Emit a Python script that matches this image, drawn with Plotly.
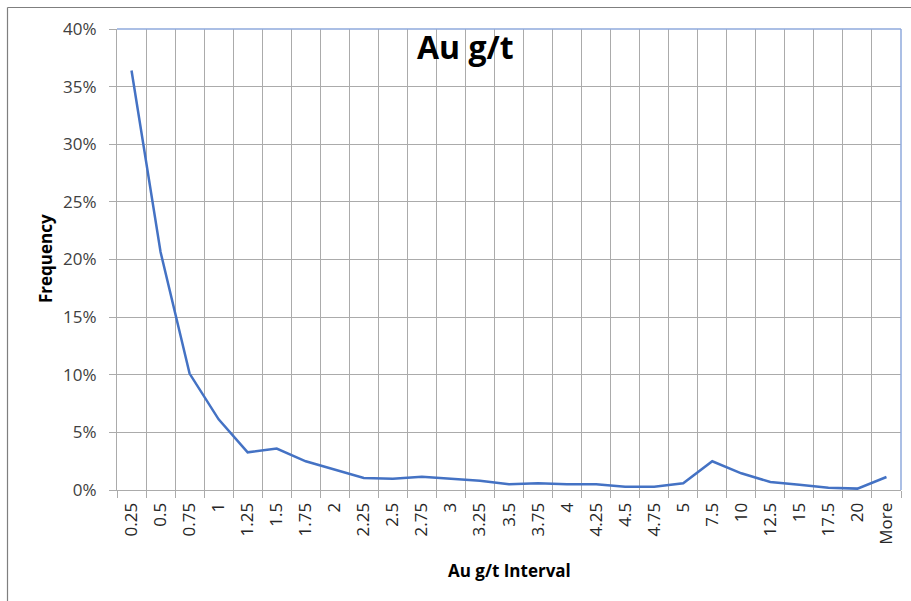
import plotly.graph_objects as go

categories = ["0.25", "0.5", "0.75", "1", "1.25", "1.5", "1.75", "2", "2.25", "2.5",
              "2.75", "3", "3.25", "3.5", "3.75", "4", "4.25", "4.5", "4.75", "5",
              "7.5", "10", "12.5", "15", "17.5", "20", "More"]
frequency = [0.364, 0.2065, 0.101, 0.0613, 0.0327, 0.0359, 0.0249, 0.0174, 0.0104, 0.0098,
             0.0116, 0.0097, 0.0081, 0.0049, 0.0058, 0.0049, 0.0049, 0.0029, 0.0029, 0.0058,
             0.0249, 0.0145, 0.0069, 0.0046, 0.0020, 0.0012, 0.0113]
y_ticks = [0, 0.05, 0.10, 0.15, 0.20, 0.25, 0.30, 0.35, 0.40]

W, H = 911, 601
L, R, T, B = 117, 10, 29, 111
pw, ph = W - L - R, H - T - B

def px(x):
    return (x - L) / pw

def py(y):
    return (H - B - y) / ph

font_family = "Open Sans, Noto Sans, sans-serif"
grid_col = "#ababab"

fig = go.Figure()
fig.add_trace(go.Scatter(
    x=categories, y=frequency, mode="lines",
    line=dict(color="#4472C4", width=2.5),
    showlegend=False, hoverinfo="skip",
))

fig.update_layout(
    width=W, height=H,
    margin=dict(l=L, r=R, t=T, b=B),
    paper_bgcolor="white", plot_bgcolor="white",
    font=dict(family=font_family, color="#404040"),
    xaxis=dict(
        type="category", tickson="boundaries",
        tickangle=-90, tickfont=dict(size=17, color="#262626"),
        showgrid=True, gridcolor=grid_col, gridwidth=1,
        ticks="outside", ticklen=7, tickcolor=grid_col,
        showline=True, linecolor=grid_col, linewidth=1,
        range=[-0.5, len(categories) - 0.5],
        ticklabelstandoff=5,
        zeroline=False,
    ),
    yaxis=dict(
        range=[0, 0.4], tickvals=y_ticks, tickformat=".0%",
        tickfont=dict(size=17, color="#404040"),
        showgrid=True, gridcolor=grid_col, gridwidth=1,
        ticks="outside", ticklen=7, tickcolor=grid_col,
        showline=True, linecolor=grid_col, linewidth=1,
        ticklabelstandoff=9,
        zeroline=False,
    ),
    shapes=[
        # outer chart border (left & top)
        dict(type="line", xref="paper", yref="paper", x0=px(7.5), x1=px(7.5), y0=py(7.5), y1=py(605),
             line=dict(color="#7f7f7f", width=1.2)),
        dict(type="line", xref="paper", yref="paper", x0=px(7.5), x1=px(915), y0=py(7.5), y1=py(7.5),
             line=dict(color="#7f7f7f", width=1.2)),
        # plot area blue border top & right
        dict(type="line", xref="paper", yref="paper", x0=0, x1=1, y0=1, y1=1,
             line=dict(color="#8faadc", width=1.5)),
        dict(type="line", xref="paper", yref="paper", x0=1, x1=1, y0=0, y1=1,
             line=dict(color="#8faadc", width=1.5)),
    ],
    annotations=[
        dict(text="<b>Au g/t</b>", xref="paper", yref="paper", x=px(465), y=py(46),
             xanchor="center", yanchor="middle", showarrow=False,
             font=dict(size=32, color="black", family=font_family)),
        dict(text="<b>Frequency</b>", xref="paper", yref="paper", x=px(45), y=py(259),
             xanchor="center", yanchor="middle", showarrow=False, textangle=-90,
             font=dict(size=17, color="black", family=font_family)),
        dict(text="<b>Au g/t Interval</b>", xref="paper", yref="paper", x=px(509), y=py(570),
             xanchor="center", yanchor="middle", showarrow=False,
             font=dict(size=17, color="black", family=font_family)),
    ],
)

fig.write_html("out.html", config={"displayModeBar": False},
               post_script="document.body.style.margin='0';document.body.style.overflow='hidden';")
